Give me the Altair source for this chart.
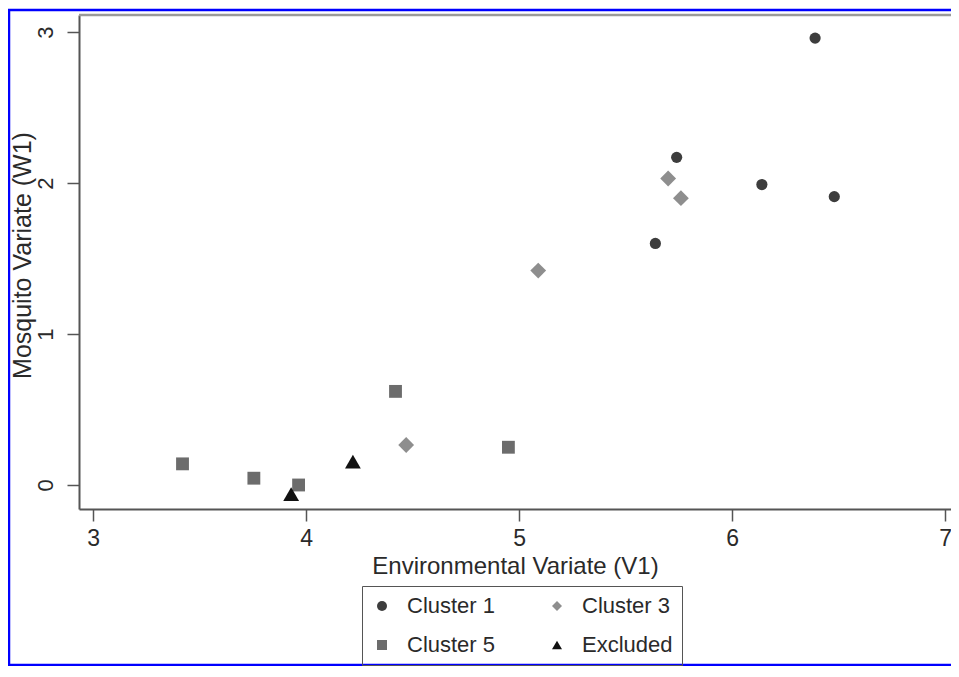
import altair as alt
import pandas as pd

groups = ["Cluster 1", "Cluster 3", "Cluster 5", "Excluded"]
shapes = ["circle", "diamond", "square", "triangle-up"]
colors = ["#3d3d3d", "#8e8e8e", "#6c6c6c", "#111111"]
sizes = [125, 250, 165, 250]

c1_x = [6.39, 5.74, 6.14, 6.48, 5.64]
c1_y = [2.96, 2.17, 1.99, 1.91, 1.60]
c3_x = [5.70, 5.76, 5.09, 4.47]
c3_y = [2.03, 1.90, 1.42, 0.265]
c5_x = [4.42, 4.95, 3.42, 3.755, 3.965]
c5_y = [0.62, 0.25, 0.14, 0.045, 0.0]
ex_x = [4.22, 3.93]
ex_y = [0.155, -0.06]

x_ticks = [3, 4, 5, 6, 7]
y_ticks = [0, 1, 2, 3]

rows = []
for g, xs, ys in [("Cluster 1", c1_x, c1_y), ("Cluster 3", c3_x, c3_y),
                  ("Cluster 5", c5_x, c5_y), ("Excluded", ex_x, ex_y)]:
    for a, b in zip(xs, ys):
        rows.append({"x": a, "y": b, "group": g})
df = pd.DataFrame(rows)

W, H = 872, 494
FONT = "Liberation Sans"
TXT = "#2a2a2a"

xenc = alt.X("x:Q", title="Environmental Variate (V1)",
             scale=alt.Scale(domain=[2.934, 7.028], nice=False, zero=False),
             axis=alt.Axis(values=x_ticks, grid=False, tickSize=12, labelPadding=6,
                           titlePadding=4, labelFontSize=23, titleFontSize=24,
                           domainColor="#555555", domainWidth=2, tickColor="#555555",
                           tickWidth=1.5, labelColor=TXT, titleColor=TXT,
                           titleFontWeight="normal", labelFont=FONT, titleFont=FONT))
yenc = alt.Y("y:Q", title="Mosquito Variate (W1)",
             scale=alt.Scale(domain=[-0.159, 3.113], nice=False, zero=False),
             axis=alt.Axis(values=y_ticks, grid=False, tickSize=12, labelPadding=10,
                           labelAngle=270, labelAlign="center", labelBaseline="bottom",
                           labelFontSize=22, titleFontSize=25,
                           titleX=-44, titleY=240, titleAngle=270,
                           titleAlign="center", titleBaseline="bottom",
                           domainColor="#555555", domainWidth=2, tickColor="#555555",
                           tickWidth=1.5, labelColor=TXT, titleColor=TXT,
                           titleFontWeight="normal", labelFont=FONT, titleFont=FONT))
shenc = alt.Shape("group:N", title="",
                  scale=alt.Scale(domain=groups, range=shapes),
                  legend=alt.Legend(orient="none", legendX=283, legendY=571,
                                    direction="horizontal",
                                    columns=2, columnPadding=50, rowPadding=17,
                                    padding=9, strokeColor="#555555",
                                    labelFontSize=22, labelFont=FONT,
                                    labelColor=TXT, symbolSize=100,
                                    labelOffset=14))
colenc = alt.Color("group:N", title="",
                   scale=alt.Scale(domain=groups, range=colors))

base = alt.Chart(df).encode(x=xenc, y=yenc, shape=shenc, color=colenc)
point_layers = [
    base.transform_filter(alt.datum.group == g).mark_point(filled=True, opacity=1, size=s)
    for g, s in zip(groups, sizes)
]

top_line = alt.Chart(alt.Data(values=[{}])).mark_rule(
    color="#9a9a9a", strokeWidth=2.5
).encode(x=alt.value(0), x2=alt.value(W), y=alt.value(0))

frame = alt.Chart(alt.Data(values=[{}])).mark_rect(
    fillOpacity=0, stroke="#0000ff", strokeWidth=2.5
).encode(x=alt.value(-70), x2=alt.value(W + 60), y=alt.value(-5), y2=alt.value(650))

chart = alt.layer(*point_layers, frame, top_line).properties(
    width=W, height=H,
    background="white",
    autosize=alt.AutoSizeParams(type="none"),
    padding={"left": 71, "top": 7, "right": 0, "bottom": 157},
).configure_view(stroke=None)

chart.save("out.html", embed_options={"renderer": "svg", "actions": False})
